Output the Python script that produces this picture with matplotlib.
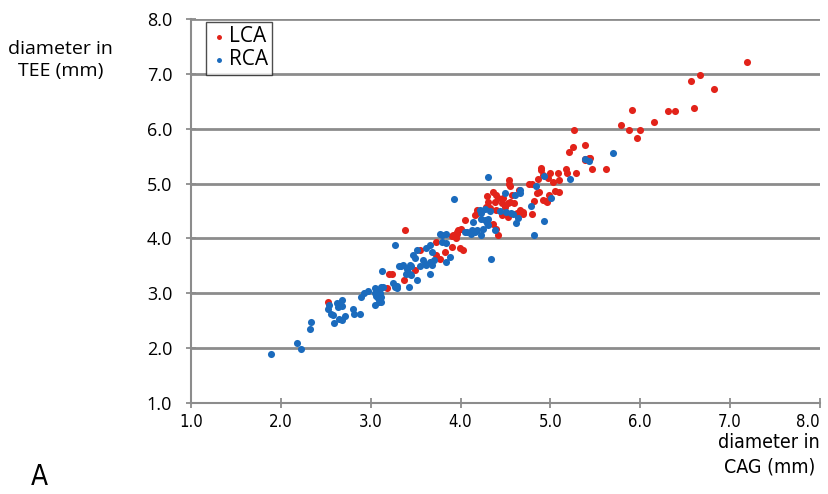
import numpy as np
import matplotlib.pyplot as plt

# LCA points (CAG diameter, TEE diameter)
lca_x = [2.52, 3.20, 3.24, 3.18, 3.37, 3.49, 3.38, 3.55, 3.90, 3.83, 3.99, 4.03,
         3.73, 3.77, 3.73, 3.91, 3.95, 3.92, 4.01, 3.97, 3.96, 3.96, 4.05,
         4.18, 4.18, 4.16, 4.36, 4.40, 4.42, 4.46, 4.53, 4.63, 4.70,
         4.31, 4.28, 4.33, 4.40, 4.57, 4.55, 4.42, 4.46, 4.36, 4.39, 4.29, 4.38,
         4.54, 4.55, 4.54, 4.65, 4.76, 4.70, 4.66, 4.62, 4.79,
         4.80, 4.87, 4.92, 4.96, 4.85, 4.82, 4.95, 4.98, 4.86, 4.90, 4.90, 4.92,
         5.05, 5.10, 5.00, 4.97, 5.03, 5.10, 5.08, 5.17, 5.18, 5.29,
         5.21, 5.25, 5.38, 5.26, 5.39, 5.43, 5.46, 5.62, 5.44, 5.38,
         5.79, 5.88, 6.00, 5.96, 5.91, 6.15, 6.31, 6.39, 6.60,
         6.56, 6.67, 6.82, 7.19, 4.47, 4.53, 4.59, 4.49]
lca_y = [2.85, 3.36, 3.36, 3.09, 3.24, 3.42, 4.16, 3.79, 3.85, 3.76, 3.82, 3.79,
         3.70, 3.62, 3.94, 4.04, 4.00, 4.06, 4.18, 4.16, 4.09, 4.12, 4.33,
         4.47, 4.52, 4.42, 4.27, 4.18, 4.07, 4.42, 4.39, 4.46, 4.45,
         4.67, 4.58, 4.55, 4.52, 4.79, 4.67, 4.73, 4.64, 4.85, 4.80, 4.77, 4.67,
         5.06, 4.96, 5.00, 4.89, 5.00, 4.49, 4.52, 4.45, 4.45,
         5.00, 4.85, 4.70, 4.67, 4.82, 4.68, 4.68, 4.80, 5.09, 5.28, 5.25, 5.15,
         4.86, 4.85, 5.19, 5.10, 5.03, 5.06, 5.19, 5.26, 5.20, 5.20,
         5.57, 5.66, 5.71, 5.97, 5.44, 5.46, 5.26, 5.26, 5.47, 5.43,
         6.06, 5.97, 5.97, 5.83, 6.35, 6.12, 6.32, 6.32, 6.38,
         6.87, 6.98, 6.73, 7.21, 4.73, 4.64, 4.64, 4.58]

# RCA points
rca_x = [1.89, 2.18, 2.22, 2.33, 2.32, 2.54, 2.53, 2.56, 2.58, 2.59,
         2.64, 2.68, 2.68, 2.65, 2.71, 2.68, 2.62, 2.80, 2.81, 2.88, 2.89, 2.92,
         2.97, 3.05, 3.06, 3.05, 3.05, 3.08, 3.12, 3.08, 3.12, 3.10, 3.12, 3.09,
         3.14, 3.13, 3.25, 3.27, 3.29, 3.29, 3.31, 3.34, 3.36, 3.40, 3.44,
         3.39, 3.45, 3.44, 3.43, 3.51, 3.66, 3.68, 3.60, 3.27, 3.42, 3.45,
         3.58, 3.62, 3.55, 3.70, 3.66, 3.84, 3.51, 3.47, 3.49, 3.66, 3.62, 3.68,
         3.84, 3.88, 3.79, 3.77, 3.84, 3.79, 4.07, 4.12, 4.18, 4.05, 4.23,
         4.13, 4.16, 4.38, 4.14, 4.25, 4.31, 4.23, 4.27, 4.31, 4.29,
         4.22, 4.23, 4.27, 4.33, 4.44, 4.51, 4.56, 4.64, 4.58, 4.62,
         4.34, 4.82, 4.93, 3.93, 4.31, 4.49, 4.61, 4.66, 4.66,
         4.78, 4.84, 5.01, 4.93, 5.22, 5.43, 5.39, 5.70]
rca_y = [1.89, 2.10, 1.98, 2.47, 2.35, 2.79, 2.71, 2.63, 2.60, 2.45,
         2.75, 2.77, 2.88, 2.54, 2.58, 2.51, 2.82, 2.71, 2.62, 2.62, 2.93, 3.01,
         3.05, 3.09, 2.95, 2.79, 3.00, 2.91, 2.85, 3.06, 3.12, 3.00, 2.94, 2.85,
         3.12, 3.41, 3.18, 3.12, 3.13, 3.09, 3.49, 3.49, 3.51, 3.45, 3.51,
         3.36, 3.33, 3.36, 3.12, 3.25, 3.36, 3.51, 3.54, 3.88, 3.47, 3.50,
         3.60, 3.51, 3.50, 3.60, 3.57, 3.57, 3.79, 3.70, 3.64, 3.88, 3.82, 3.76,
         3.91, 3.67, 3.94, 4.09, 4.09, 4.07, 4.12, 4.09, 4.16, 4.12, 4.06,
         4.16, 4.12, 4.15, 4.30, 4.18, 4.24, 4.36, 4.33, 4.36, 4.28,
         4.52, 4.46, 4.53, 4.50, 4.50, 4.48, 4.47, 4.38, 4.45, 4.28,
         3.62, 4.06, 4.32, 4.71, 5.12, 4.83, 4.79, 4.82, 4.88,
         4.59, 4.95, 4.74, 5.14, 5.09, 5.41, 5.45, 5.55]

ticks = [1.0, 2.0, 3.0, 4.0, 5.0, 6.0, 7.0, 8.0]

red = '#e2231a'
blue = '#1b6bbd'
grey = '#8c8c8c'
narrow = ['Liberation Sans Narrow', 'DejaVu Sans']

fig = plt.figure(figsize=(8.29, 4.94), dpi=100)
ax = fig.add_axes([0.2304, 0.1842, 0.7587, 0.7773])

ax.scatter(lca_x, lca_y, s=26, color=red, label='LCA', zorder=3, linewidths=0)
ax.scatter(rca_x, rca_y, s=26, color=blue, label='RCA', zorder=3, linewidths=0)

ax.set_xlim(1, 8)
ax.set_ylim(1, 8)
ax.set_xticks(ticks)
ax.set_yticks(ticks)
ax.set_xticklabels(['%.1f' % t for t in ticks], fontsize=12,
                   family=narrow, fontstretch='condensed')
ax.set_yticklabels(['%.1f' % t for t in ticks], fontsize=13, family='Open Sans')

# keep the last x label inside the figure
ax.get_xticklabels()[-1].set_horizontalalignment('right')

# horizontal grid lines
ax.set_axisbelow(True)
ax.yaxis.grid(True, color=grey, linewidth=2.0)
ax.xaxis.grid(False)

for s in ['top', 'right']:
    ax.spines[s].set_visible(False)
for s in ['left', 'bottom']:
    ax.spines[s].set_color(grey)
    ax.spines[s].set_linewidth(1.5)

ax.tick_params(axis='both', direction='inout', length=7, width=1.3, color=grey)
ax.tick_params(axis='y', pad=10)
ax.tick_params(axis='x', pad=4)

leg = ax.legend(loc='upper left', bbox_to_anchor=(0.024, 0.992), borderaxespad=0,
                prop={'family': 'Open Sans', 'size': 15},
                frameon=True, fancybox=False, edgecolor='#222222',
                handletextpad=0.1, borderpad=0.2, labelspacing=0.1,
                markerscale=0.7, handlelength=0.8)
leg.get_frame().set_linewidth(1.0)

fig.text(0.073, 0.879, 'diameter in\nTEE (mm)', ha='center', va='center',
         fontsize=14, family='Open Sans', linespacing=1.3)
fig.text(0.928, 0.079, 'diameter in\nCAG (mm)', ha='center', va='center',
         fontsize=14, family=narrow, fontstretch='condensed', linespacing=1.4)
fig.text(0.048, 0.006, 'A', ha='center', va='bottom', fontsize=20,
         family=narrow, fontstretch='condensed')

fig.savefig('out.png', dpi=100)
